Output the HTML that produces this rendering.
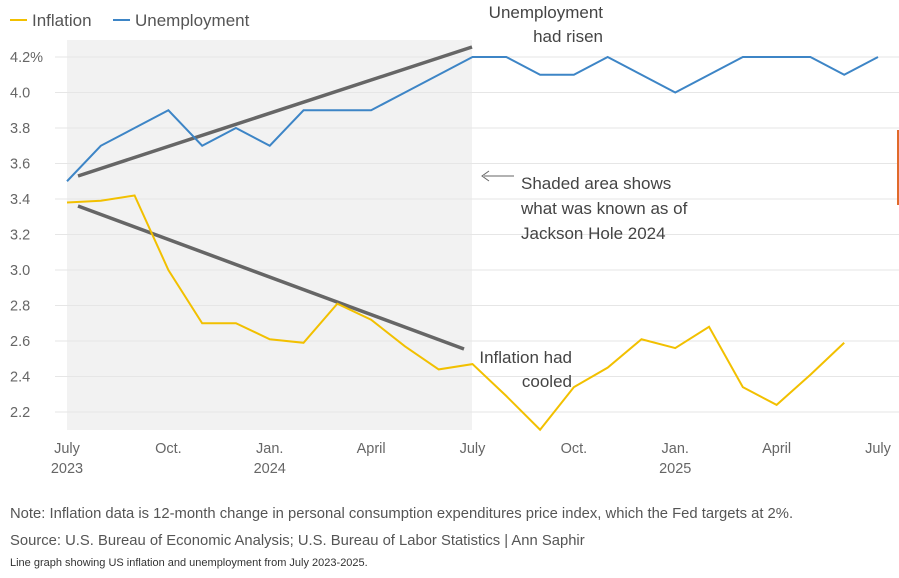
<!DOCTYPE html>
<html><head><meta charset="utf-8"><style>
body{margin:0;background:#fff;width:899px;height:573px;overflow:hidden;font-family:"Liberation Sans",sans-serif;}
svg text{font-family:"Liberation Sans",sans-serif;}
</style></head><body>
<svg id="chart" width="899" height="573" xmlns="http://www.w3.org/2000/svg">
<rect x="67" y="40" width="405" height="390" fill="#f2f2f2"/>
<g id="grid"></g>
<g id="yticks"></g>
<g id="xticks"></g>
<line x1="78" y1="176" x2="472" y2="47" stroke="#666" stroke-width="3.5"/>
<line x1="78" y1="206" x2="464" y2="349" stroke="#666" stroke-width="3.5"/>
<polyline id="unemp" fill="none" stroke="#3d85c6" stroke-width="2"/>
<polyline id="infl" fill="none" stroke="#f2c000" stroke-width="2"/>
<g>
<line x1="10" y1="20" x2="27" y2="20" stroke="#f2c000" stroke-width="2"/>
<text x="32" y="26" font-size="17" fill="#555">Inflation</text>
<line x1="113" y1="20" x2="130" y2="20" stroke="#3d85c6" stroke-width="2"/>
<text x="135" y="26" font-size="17" fill="#555">Unemployment</text>
</g>
<text font-size="17" fill="#444" text-anchor="end"><tspan x="603" y="18">Unemployment</tspan><tspan x="603" y="42">had risen</tspan></text>
<text font-size="17" fill="#444" text-anchor="end"><tspan x="572" y="363">Inflation had</tspan><tspan x="572" y="387">cooled</tspan></text>
<line x1="484" y1="176" x2="514" y2="176" stroke="#666" stroke-width="1"/>
<path d="M489 171 L482 176 L489 181" fill="none" stroke="#666" stroke-width="1"/>
<text font-size="17" fill="#444"><tspan x="521" y="189">Shaded area shows</tspan><tspan x="521" y="214">what was known as of</tspan><tspan x="521" y="239">Jackson Hole 2024</tspan></text>
<rect x="897" y="130" width="2" height="75" fill="#e06a2a"/>
<text x="10" y="518" font-size="14.8" fill="#555">Note: Inflation data is 12-month change in personal consumption expenditures price index, which the Fed targets at 2%.</text>
<text x="10" y="545" font-size="14.8" fill="#555">Source: U.S. Bureau of Economic Analysis; U.S. Bureau of Labor Statistics | Ann Saphir</text>
<text x="10" y="566" font-size="11" fill="#333">Line graph showing US inflation and unemployment from July 2023-2025.</text>
</svg>
<script>
const unemployment=[3.5,3.7,3.8,3.9,3.7,3.8,3.7,3.9,3.9,3.9,4.0,4.1,4.2,4.2,4.1,4.1,4.2,4.1,4.0,4.1,4.2,4.2,4.2,4.1,4.2];
const inflation=[3.38,3.39,3.42,3.0,2.70,2.70,2.61,2.59,2.81,2.72,2.57,2.44,2.47,2.29,2.10,2.34,2.45,2.61,2.56,2.68,2.34,2.24,2.41,2.59];
const yTicks=[2.2,2.4,2.6,2.8,3.0,3.2,3.4,3.6,3.8,4.0,4.2];
const xTickMonths=[0,3,6,9,12,15,18,21,24];
const xTickLabels=["July","Oct.","Jan.","April","July","Oct.","Jan.","April","July"];
const xTickYears=["2023","","2024","","","","2025","",""];
const xs=m=>67+m*(811/24);
const ys=v=>412-(v-2.2)*177.5;
const NS="http://www.w3.org/2000/svg";
const grid=document.getElementById('grid'),yt=document.getElementById('yticks'),xt=document.getElementById('xticks');
yTicks.forEach(v=>{
 const l=document.createElementNS(NS,'line');
 
 
 l.setAttribute('x1',55);l.setAttribute('x2',899);l.setAttribute('y1',ys(v));l.setAttribute('y2',ys(v));
 l.setAttribute('stroke','#e6e6e6');l.setAttribute('stroke-width','1');grid.appendChild(l);
 const t=document.createElementNS(NS,'text');
 
 
 t.setAttribute('x',10);t.setAttribute('y',ys(v)+5);t.setAttribute('font-size','14.5');t.setAttribute('fill','#666');
 t.textContent=v===4.2?'4.2%':v.toFixed(1);yt.appendChild(t);
});
xTickMonths.forEach((m,i)=>{
 const t=document.createElementNS(NS,'text');
 
 
 t.setAttribute('x',xs(m));t.setAttribute('y',453);t.setAttribute('font-size','14.5');t.setAttribute('fill','#666');t.setAttribute('text-anchor','middle');
 t.textContent=xTickLabels[i];xt.appendChild(t);
 if(xTickYears[i]){
  const y=document.createElementNS(NS,'text');
  
  
  y.setAttribute('x',xs(m));y.setAttribute('y',473);y.setAttribute('font-size','14.5');y.setAttribute('fill','#666');y.setAttribute('text-anchor','middle');
  y.textContent=xTickYears[i];xt.appendChild(y);
 }
});
document.getElementById('unemp').setAttribute('points',unemployment.map((v,i)=>xs(i)+','+ys(v)).join(' '));
document.getElementById('infl').setAttribute('points',inflation.map((v,i)=>xs(i)+','+ys(v)).join(' '));
</script>
</body></html>
